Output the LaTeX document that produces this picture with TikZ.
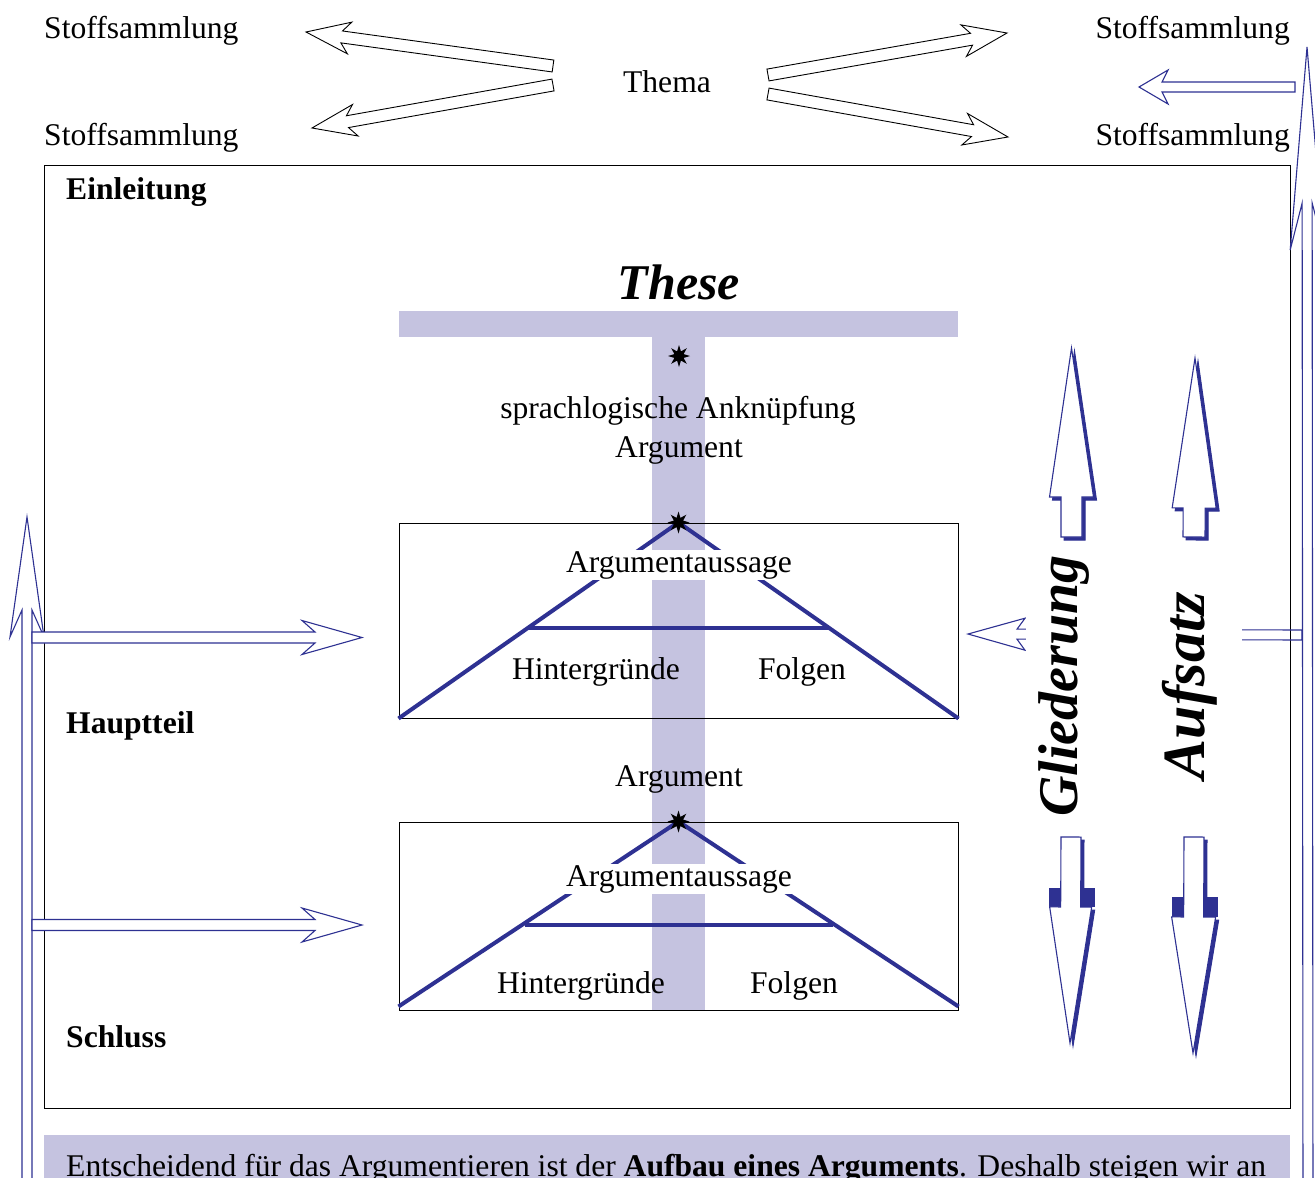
\documentclass[tikz,border=0pt]{standalone}
\usepackage{fontspec}
\setmainfont{Liberation Serif}
\usetikzlibrary{shapes.geometric,calc}
\definecolor{lav}{RGB}{197,195,224}
\definecolor{dblue}{RGB}{46,49,146}
% hollow arrow: #1 style, (#2,#3) tail, (#4,#5) tip, #6 half shaft, #7 head length, #8 half head width, #9 sweep-back
\newcommand\harrow[9]{%
  \pgfmathsetmacro\hArAng{atan2(-(#5)+(#3),(#4)-(#2))}%
  \pgfmathsetmacro\hArLen{veclen((#4)-(#2),(#5)-(#3))}%
  \begin{scope}[shift={(#2,#3)},rotate=\hArAng]
    \draw[#1] (0,-#6) -- ({\hArLen-#7+#9},-#6) -- ({\hArLen-#7},-#8) -- (\hArLen,0)
      -- ({\hArLen-#7},#8) -- ({\hArLen-#7+#9},#6) -- (0,#6) -- cycle;
  \end{scope}}
\tikzset{
  txt/.style={font=\fontsize{31.6}{36}\selectfont, inner sep=0pt},
  btxt/.style={font=\fontsize{31.6}{36}\selectfont\bfseries, inner sep=0pt, anchor=base west},
  wtxt/.style={font=\fontsize{31.6}{36}\selectfont, fill=white, inner sep=1.5pt, anchor=base},
  blackarrow/.style={draw=black, line width=0.9pt, fill=white},
  bluearrow/.style={draw=dblue, line width=1.1pt},
  bluearrowf/.style={draw=dblue, line width=1.1pt, fill=white},
  shadowarrow/.style={fill=dblue, draw=dblue, line width=1pt},
  mainarrow/.style={fill=white, draw=dblue, line width=1.1pt},
  thickline/.style={draw=dblue, line width=4pt},
  starmark/.style={star, star points=8, star point ratio=2.2, fill=black, inner sep=0pt, minimum size=22pt},
  panel/.style={draw=black, line width=1pt, inner sep=0pt},
  script/.style={font=\bfseries\itshape, inner sep=0pt}
}
\begin{document}
\begin{tikzpicture}[x=1pt,y=-1pt]
\useasboundingbox (0,0) rectangle (1315,1178);
\clip (0,0) rectangle (1315,1178);
\fill[white] (0,0) rectangle (1315,1178);

% lavender T bar and bottom band
\fill[lav] (399,311) rectangle (958,337);
\fill[lav] (652,337) rectangle (705,1010);
\fill[lav] (44,1135) rectangle (1290,1200);

% frame and argument panels
\node[panel, minimum width=1246pt, minimum height=943pt] (frame) at (667,636.5) {};
\node[panel, minimum width=559pt, minimum height=195pt] (box1) at (678.5,620.5) {};
\node[panel, minimum width=559pt, minimum height=188pt] (box2) at (678.5,916) {};

\draw[thickline] (box1.south west) -- (box1.north) -- (box1.south east);
\draw[thickline] ($(box1.north)!0.54!(box1.south west)$) -- ($(box1.north)!0.54!(box1.south east)$);
\draw[thickline] ($(box2.south west)+(0,-4)$) -- (box2.north) -- ($(box2.south east)+(0,-4)$);
\draw[thickline] ($(box2.north)!0.55!(box2.south west)$) -- ($(box2.north)!0.55!(box2.south east)$);

% top texts
\node[txt, anchor=base west] (s1) at (44,38) {Stoffsammlung};
\node[txt, anchor=base west] (s2) at (44,145) {Stoffsammlung};
\node[txt, anchor=base east] (s3) at (1290,38) {Stoffsammlung};
\node[txt, anchor=base east] (s4) at (1290,145) {Stoffsammlung};
\node[txt, anchor=base] (thema) at (667,92) {Thema};

% top black arrows
\harrow{blackarrow}{553}{66}{306}{32}{6}{44}{16}{8}
\harrow{blackarrow}{553}{85}{312}{128}{6}{44}{16}{8}
\harrow{blackarrow}{768}{75}{1007}{33}{6}{44}{16}{8}
\harrow{blackarrow}{768}{94}{1008}{137}{6}{44}{16}{8}

% section labels
\node[btxt] (ein) at (66,199) {Einleitung};
\node[btxt] (haupt) at (66,733) {Hauptteil};
\node[btxt] (schl) at (66,1047) {Schluss};

% centre texts
\node[script, font=\fontsize{50}{56}\selectfont\bfseries\itshape, anchor=base] (these) at (679,299) {These};
\node[txt, anchor=base] (sprach) at (678,418) {sprachlogische Anknüpfung};
\node[txt, anchor=base] (arg1) at (679,457) {Argument};
\node[wtxt] (aa1) at (679,572) {Argumentaussage};
\node[txt, anchor=base] (hg1) at (596,679) {Hintergründe};
\node[txt, anchor=base] (fo1) at (802,679) {Folgen};
\node[txt, anchor=base] (arg2) at (679,786) {Argument};
\node[wtxt] (aa2) at (679,886) {Argumentaussage};
\node[txt, anchor=base] (hg2) at (581,993) {Hintergründe};
\node[txt, anchor=base] (fo2) at (794,993) {Folgen};

\node[starmark] (st1) at (679,356) {};
\node[starmark] (st2) at (box1.north) {};
\node[starmark] (st3) at (box2.north) {};

% left blue arrows
\harrow{bluearrow}{27}{1220}{27}{517}{5}{120}{17}{27}
\harrow{bluearrowf}{32}{637.5}{362}{637.5}{5.5}{60}{17}{13}
\harrow{bluearrowf}{32}{925}{362}{925}{5.5}{60}{17}{13}

% right blue arrows
\harrow{bluearrow}{1308}{1220}{1307}{47}{5}{203}{17}{47}
\harrow{bluearrowf}{1295}{87}{1139}{87}{5}{29}{17}{6}
\harrow{bluearrow}{1302}{635}{968}{634}{5}{57}{16}{8}

% cover behind the vertical labels
\fill[white] (1026,537) rectangle (1242,837);

% Gliederung / Aufsatz arrows with shadow
\begin{scope}[shift={(3,3)}]
\harrow{shadowarrow}{1071.5}{537}{1071.5}{348}{10.5}{149}{22}{0}
\harrow{shadowarrow}{1194}{537}{1195}{358}{11}{150}{22}{0}
\harrow{shadowarrow}{1071}{837}{1070}{1043}{10}{136}{21}{0}
\harrow{shadowarrow}{1194}{837}{1193}{1053}{10}{136}{22}{0}
\end{scope}
\fill[dblue] (1049,888) rectangle (1061,907);
\fill[dblue] (1080,888) rectangle (1095,907);
\fill[dblue] (1172,897) rectangle (1184,917);
\fill[dblue] (1203,897) rectangle (1218,917);
\harrow{mainarrow}{1071.5}{537}{1071.5}{348}{10.5}{149}{22}{0}
\harrow{mainarrow}{1194}{537}{1195}{358}{11}{150}{22}{0}
\harrow{mainarrow}{1071}{837}{1070}{1043}{10}{136}{21}{0}
\harrow{mainarrow}{1194}{837}{1193}{1053}{10}{136}{22}{0}

\node[script, font=\fontsize{56}{60}\selectfont\bfseries\itshape, rotate=90] (glied) at (1064,686) {Gliederung};
\node[script, font=\fontsize{60}{64}\selectfont\bfseries\itshape, rotate=90] (aufs) at (1190,686) {Aufsatz};

% bottom text
\node[txt, anchor=base west] (bottom) at (66,1176) {Entscheidend für das Argumentieren ist der \textbf{Aufbau eines Arguments}. Deshalb steigen wir an};
\end{tikzpicture}
\end{document}
